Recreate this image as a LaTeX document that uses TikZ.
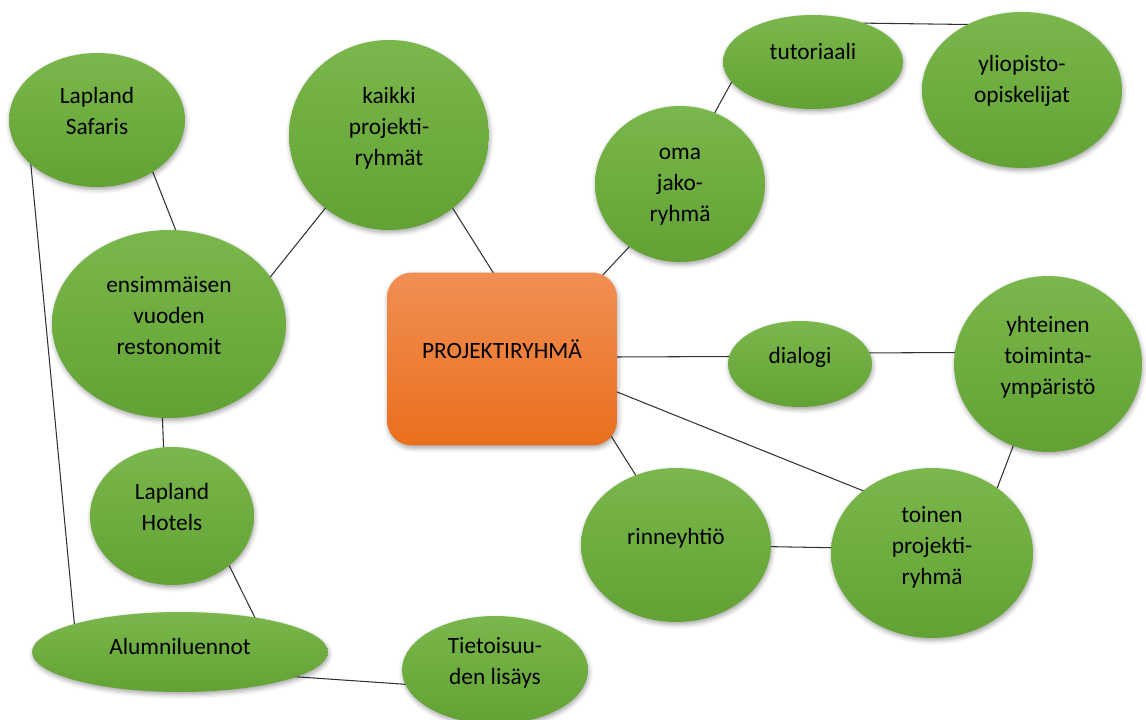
\documentclass[tikz,border=0pt]{standalone}
\usepackage{fontspec}
\setmainfont{Carlito}
\usetikzlibrary{shapes.geometric, shadows.blur}
\pgfdeclarelayer{background}
\pgfsetlayers{background,main}

\definecolor{bubtop}{RGB}{122,183,76}
\definecolor{bubbot}{RGB}{98,162,52}
\definecolor{hubtop}{RGB}{241,143,84}
\definecolor{hubbot}{RGB}{233,111,28}

% text lines, lifted a little inside the shape
\newcommand\lbl[2][8pt]{\begin{tabular}{@{}c@{}}#2\\[#1]\end{tabular}}

\tikzset{
    softshadow/.style={blur shadow={shadow xshift=0.5pt, shadow yshift=-1.5pt, shadow blur radius=2.5pt, shadow opacity=35}},
    bubble/.style={ellipse, inner sep=0pt, top color=bubtop, bottom color=bubbot, text=black, softshadow,
        font=\fontsize{13.3}{17.6}\selectfont},
    hub/.style={rectangle, rounded corners=0.5cm, inner sep=0pt, top color=hubtop, bottom color=hubbot, text=black, softshadow,
        font=\fontsize{13.3}{17.6}\selectfont},
    link/.style={draw=black!80, line width=0.6pt, shorten <=-1pt, shorten >=-1pt}
}

\begin{document}
\begin{tikzpicture}[x=0.02cm, y=-0.02cm]
    \useasboundingbox (0,0) rectangle (1146,720);

    \node[hub, minimum width=4.6cm, minimum height=3.46cm] (box) at (502,359) {\lbl{PROJEKTIRYHMÄ}};

    \node[bubble, minimum width=3.52cm, minimum height=2.68cm] (saf) at (97,120) {\lbl{Lapland\\Safaris}};
    \node[bubble, minimum width=4.0cm, minimum height=3.8cm] (kai) at (389,135) {\lbl{kaikki\\projekti-\\ryhmät}};
    \node[bubble, minimum width=4.68cm, minimum height=3.76cm] (ens) at (169,324) {\lbl{ensimmäisen\\vuoden\\restonomit}};
    \node[bubble, minimum width=3.28cm, minimum height=2.76cm] (hot) at (172,516) {\lbl{Lapland\\Hotels}};
    \node[bubble, minimum width=5.92cm, minimum height=1.6cm] (alu) at (180,652) {\lbl[4pt]{Alumniluennot}};
    \node[bubble, minimum width=3.72cm, minimum height=2.16cm] (tie) at (495,670) {\lbl{Tietoisuu-\\den lisäys}};

    \node[bubble, minimum width=3.4cm, minimum height=3.12cm] (oma) at (680,184) {\lbl[0pt]{oma\\jako-\\ryhmä}};
    \node[bubble, minimum width=3.6cm, minimum height=1.88cm] (tut) at (813,62) {\lbl[10pt]{tutoriaali}};
    \node[bubble, minimum width=4.0cm, minimum height=3.12cm] (yli) at (1022,90) {\lbl[10pt]{yliopisto-\\opiskelijat}};
    \node[bubble, minimum width=2.88cm, minimum height=1.72cm] (dia) at (800,364) {\lbl{dialogi}};
    \node[bubble, minimum width=3.76cm, minimum height=3.52cm] (yht) at (1048,364) {\lbl{yhteinen\\toiminta-\\ympäristö}};
    \node[bubble, minimum width=3.8cm, minimum height=3.08cm] (rin) at (676,545) {\lbl{rinneyhtiö}};
    \node[bubble, minimum width=4.04cm, minimum height=3.4cm] (toi) at (932,553) {\lbl[6pt]{toinen\\projekti-\\ryhmä}};

    \begin{pgfonlayer}{background}
    \foreach \a/\b in {96/kai.-49, 40/oma.-129, 1/dia.174, -16/toi.138, -37/rin.120}
        \draw[link, shorten <=-10pt] (box.\a) -- (\b);
    \foreach \a/\b in {kai.-131/ens.25, saf.-43/ens.86, saf.-146/alu.165, ens.-94/hot.97,
                       hot.-41/alu.25, alu.-12/tie.-171, oma.64/tut.-166, tut.37/yli.130,
                       dia.9/yht.173, rin.-1/toi.177, toi.45/yht.-113}
        \draw[link] (\a) -- (\b);
    \end{pgfonlayer}
\end{tikzpicture}
\end{document}
